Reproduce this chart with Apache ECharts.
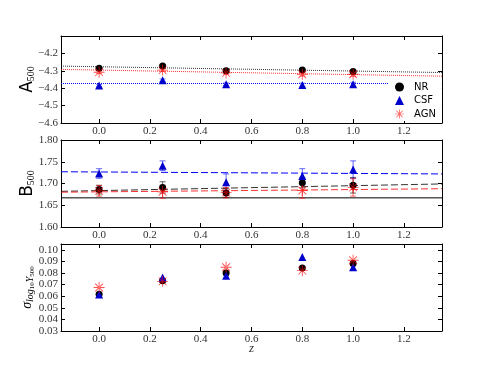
<!DOCTYPE html>
<html>
<head>
<meta charset="utf-8">
<script src="https://cdn.jsdelivr.net/npm/echarts@6/dist/echarts.min.js"></script>
<style>
  html, body { margin: 0; padding: 0; background: #fff; }
  #main { width: 491px; height: 368px; }
</style>
</head>
<body>
<div id="main"></div>
<script>
// redshifts of the snapshots
const zVals = [0, 0.25, 0.5, 0.8, 1.0];

// A500 panel
const aNR = [-4.285, -4.273, -4.300, -4.295, -4.304];
const aNRerr = [0.006, 0.006, 0.006, 0.007, 0.008];
const aCSF = [-4.385, -4.354, -4.377, -4.381, -4.378];
const aCSFerr = [0.006, 0.007, 0.007, 0.010, 0.012];
const aAGN = [-4.308, -4.296, -4.312, -4.320, -4.320];
const aAGNerr = [0.007, 0.007, 0.008, 0.010, 0.012];

// B500 panel
const bNR = [1.686, 1.691, 1.678, 1.702, 1.696];
const bNRerr = [0.010, 0.013, 0.010, 0.012, 0.018];
const bCSF = [1.723, 1.741, 1.703, 1.717, 1.732];
const bCSFerr = [0.011, 0.011, 0.019, 0.017, 0.020];
const bAGN = [1.683, 1.681, 1.679, 1.684, 1.691];
const bAGNerr = [0.012, 0.015, 0.012, 0.018, 0.020];

// scatter panel
const sNR = [0.0617, 0.0733, 0.0800, 0.0843, 0.0881];
const sCSF = [0.0614, 0.0762, 0.0776, 0.0939, 0.0850];
const sAGN = [0.0675, 0.0728, 0.0850, 0.0820, 0.0910];

// fit lines (end points)
const fitZ = [-0.15, 1.35];
const aFitNR = [-4.273, -4.310];
const aFitCSF = [-4.373, -4.373];
const aFitAGN = [-4.292, -4.331];
const bFitNR = [1.682, 1.699];
const bFitCSF = [1.727, 1.722];
const bFitAGN = [1.680, 1.688];
const bSelfSimilar = [1.667, 1.667];

// ticks
const xTicks = [0, 0.2, 0.4, 0.6, 0.8, 1.0, 1.2];
const aTicks = [-4.6, -4.5, -4.4, -4.3, -4.2, -4.1];
const aLabels = [-4.6, -4.5, -4.4, -4.3, -4.2];
const bTicks = [1.60, 1.65, 1.70, 1.75, 1.80];
const sTicks = [0.03, 0.04, 0.05, 0.06, 0.07, 0.08, 0.09, 0.10];

const SERIF = 'Liberation Serif';
const SANS = 'DejaVu Sans';
const BLUE = '#0000ff';
const RED = 'rgba(255,0,0,0.7)';
const LABEL = '#333';
const ASTER = 'path://M-1,-0.08L1,-0.08L1,0.08L-1,0.08Z M-0.08,-1L0.08,-1L0.08,1L-0.08,1Z ' +
  'M-0.65,-0.76L0.76,0.65L0.65,0.76L-0.76,-0.65Z M-0.65,0.76L0.76,-0.65L0.65,-0.76L-0.76,0.65Z';

const grids = [
  { left: 61, top: 36, width: 381, height: 87 },
  { left: 61, top: 140, width: 381, height: 87 },
  { left: 61, top: 244, width: 381, height: 87 }
];

const pts = (ys) => zVals.map((z, i) => [z, ys[i]]);
const errPts = (ys, es) => zVals.map((z, i) => [z, ys[i], es[i]]);
const fitPts = (ys) => fitZ.map((z, i) => [z, ys[i]]);

function xPair(g, name) {
  return [
    {
      gridIndex: g, type: 'value', min: -0.15, max: 1.35, position: 'bottom',
      axisLine: { onZero: false, lineStyle: { color: '#000', width: 1 } },
      axisTick: { inside: true, length: 4, customValues: xTicks, lineStyle: { color: '#000' } },
      axisLabel: { customValues: xTicks, margin: 3, fontFamily: SERIF, fontSize: 11, color: LABEL,
        formatter: v => v.toFixed(1) },
      splitLine: { show: false },
      name: name || '', nameLocation: 'middle', nameGap: 11, nameMoveOverlap: false,
      nameTextStyle: { fontFamily: SERIF, fontStyle: 'italic', fontSize: 13, color: LABEL }
    },
    {
      gridIndex: g, type: 'value', min: -0.15, max: 1.35, position: 'top',
      axisLine: { onZero: false, lineStyle: { color: '#000', width: 1 } },
      axisTick: { inside: true, length: 4, customValues: xTicks, lineStyle: { color: '#000' } },
      axisLabel: { show: false }, splitLine: { show: false }
    }
  ];
}

function yPair(g, min, max, ticks, labels, fmt, name, rich, gap) {
  return [
    {
      gridIndex: g, type: 'value', min: min, max: max, position: 'left',
      axisLine: { onZero: false, lineStyle: { color: '#000', width: 1 } },
      axisTick: { inside: true, length: 4, customValues: ticks, lineStyle: { color: '#000' } },
      axisLabel: { customValues: labels, margin: 3, fontFamily: SERIF, fontSize: 11, color: LABEL, formatter: fmt },
      splitLine: { show: false },
      name: name, nameLocation: 'middle', nameRotate: 90, nameGap: gap, nameMoveOverlap: false,
      nameTextStyle: { rich: rich }
    },
    {
      gridIndex: g, type: 'value', min: min, max: max, position: 'right',
      axisLine: { onZero: false, lineStyle: { color: '#000', width: 1 } },
      axisTick: { inside: true, length: 4, customValues: ticks, lineStyle: { color: '#000' } },
      axisLabel: { show: false }, splitLine: { show: false }
    }
  ];
}

function errRender(color) {
  return function (params, api) {
    const x = api.value(0), y = api.value(1), e = api.value(2);
    const p1 = api.coord([x, y + e]);
    const p2 = api.coord([x, y - e]);
    const w = 3;
    const style = { stroke: color, lineWidth: 1, fill: null };
    return {
      type: 'group',
      children: [
        { type: 'line', shape: { x1: p1[0], y1: p1[1], x2: p2[0], y2: p2[1] }, style: style },
        { type: 'line', shape: { x1: p1[0] - w, y1: p1[1], x2: p1[0] + w, y2: p1[1] }, style: style },
        { type: 'line', shape: { x1: p2[0] - w, y1: p2[1], x2: p2[0] + w, y2: p2[1] }, style: style }
      ]
    };
  };
}

function errSeries(ax, ys, es, color) {
  return {
    type: 'custom', name: 'err', xAxisIndex: ax, yAxisIndex: ax,
    renderItem: errRender(color), encode: { x: 0, y: 1 },
    data: errPts(ys, es), silent: true, z: 3
  };
}

function fitSeries(ax, ys, color, type, width) {
  return {
    type: 'line', name: 'fit', xAxisIndex: ax, yAxisIndex: ax, data: fitPts(ys),
    symbol: 'none', silent: true, z: 2,
    lineStyle: { color: color, width: width || 1, type: type }
  };
}

function markSeries(ax, name, ys) {
  const sty = {
    NR: { symbol: 'circle', symbolSize: 7, itemStyle: { color: '#000', opacity: 1 } },
    CSF: { symbol: 'triangle', symbolSize: 8, itemStyle: { color: '#0000cc', opacity: 1 } },
    AGN: { symbol: ASTER, symbolSize: 11, itemStyle: { color: RED, opacity: 1 } }
  }[name];
  return Object.assign({
    type: 'scatter', name: name, xAxisIndex: ax, yAxisIndex: ax, data: pts(ys), z: 4
  }, sty);
}

const subRich = { fontFamily: SERIF, fontSize: 10, color: '#000', verticalAlign: 'bottom', padding: [6, 0, 0, 0] };

const xAxes = [].concat(xPair(0), xPair(1), xPair(2, 'z'));
const yAxes = [].concat(
  yPair(0, -4.6, -4.1, aTicks, aLabels, v => v.toFixed(1).replace('-', '\u2212'),
    '{a|A}{s|500}', { a: { fontFamily: SANS, fontSize: 17, color: '#000' }, s: subRich }, 25),
  yPair(1, 1.60, 1.80, bTicks, bTicks, v => v.toFixed(2),
    '{a|B}{s|500}', { a: { fontFamily: SANS, fontSize: 17, color: '#000' }, s: subRich }, 25),
  yPair(2, 0.03, 0.105, sTicks, sTicks, v => v.toFixed(2),
    '{g|\u03c3}{s|log}{t|10}{s|Y}{t|500}', {
      g: { fontFamily: SERIF, fontStyle: 'italic', fontSize: 14, color: '#000' },
      s: { fontFamily: SERIF, fontStyle: 'italic', fontSize: 10, color: '#000', padding: [6, 0, 0, 0] },
      t: { fontFamily: SERIF, fontSize: 7, color: '#000', padding: [10, 0, 0, 0] }
    }, 25)
);

const series = [
  // panel A
  fitSeries(0, aFitNR, 'rgba(0,0,0,0.8)', 'dotted'),
  fitSeries(0, aFitAGN, 'rgba(255,0,0,0.8)', 'dotted'),
  fitSeries(0, aFitCSF, BLUE, 'dotted'),
  errSeries(0, aNR, aNRerr, 'rgba(0,0,0,0.6)'),
  errSeries(0, aCSF, aCSFerr, 'rgba(0,0,255,0.5)'),
  errSeries(0, aAGN, aAGNerr, 'rgba(255,0,0,0.5)'),
  markSeries(0, 'NR', aNR),
  markSeries(0, 'CSF', aCSF),
  markSeries(0, 'AGN', aAGN),
  // panel B
  fitSeries(2, bSelfSimilar, '#000', 'solid'),
  fitSeries(2, bFitNR, 'rgba(0,0,0,0.8)', [7, 3]),
  fitSeries(2, bFitAGN, 'rgba(255,0,0,0.8)', [7, 3]),
  fitSeries(2, bFitCSF, BLUE, [7, 3]),
  errSeries(2, bNR, bNRerr, 'rgba(0,0,0,0.6)'),
  errSeries(2, bCSF, bCSFerr, 'rgba(0,0,255,0.6)'),
  errSeries(2, bAGN, bAGNerr, 'rgba(255,0,0,0.6)'),
  markSeries(2, 'NR', bNR),
  markSeries(2, 'CSF', bCSF),
  markSeries(2, 'AGN', bAGN),
  // panel sigma
  markSeries(4, 'NR', sNR),
  markSeries(4, 'CSF', sCSF),
  markSeries(4, 'AGN', sAGN)
];

const chart = echarts.init(document.getElementById('main'), null, { renderer: 'canvas' });
chart.setOption({
  animation: false,
  backgroundColor: '#fff',
  grid: grids,
  xAxis: xAxes,
  yAxis: yAxes,
  legend: {
    data: ['NR', 'CSF', 'AGN'],
    orient: 'vertical', left: 389, top: 80,
    itemWidth: 9, itemHeight: 9, itemGap: 3.5,
    backgroundColor: '#fff', padding: [2, 6, 2, 6],
    textStyle: { fontFamily: SANS, fontSize: 10, color: '#000', padding: [0, 0, 0, 5] },
    selectedMode: false
  },
  series: series
});
</script>
</body>
</html>
